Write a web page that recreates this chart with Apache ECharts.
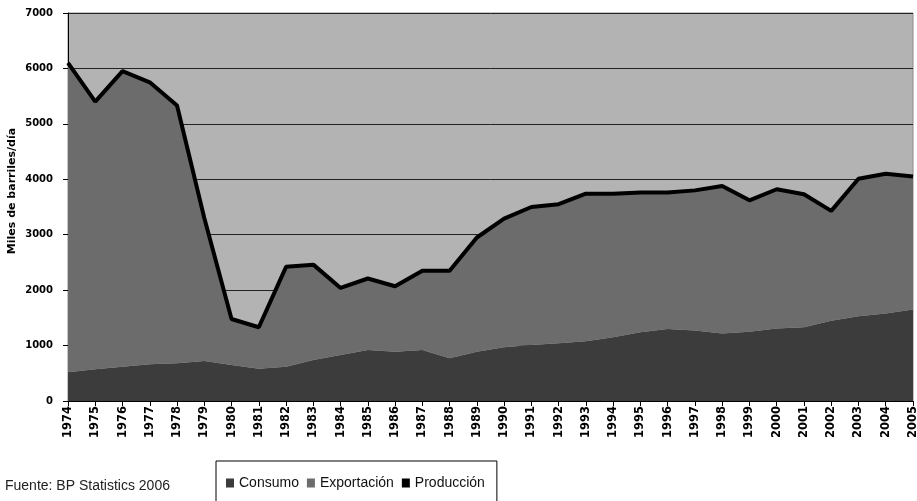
<!DOCTYPE html>
<html>
<head>
<meta charset="utf-8">
<script src="https://cdn.jsdelivr.net/npm/echarts@6/dist/echarts.min.js"></script>
<style>html,body{margin:0;padding:0;background:#fff}#c{width:917px;height:501px}</style>
</head>
<body>
<div id="c"></div>
<script>
const years = ['1974','1975','1976','1977','1978','1979','1980','1981','1982','1983','1984','1985','1986','1987','1988','1989','1990','1991','1992','1993','1994','1995','1996','1997','1998','1999','2000','2001','2002','2003','2004','2005'];
const consumo = [520, 575, 620, 665, 680, 720, 650, 580, 620, 740, 830, 920, 890, 920, 770, 890, 970, 1010, 1040, 1080, 1150, 1240, 1300, 1270, 1220, 1250, 1310, 1330, 1450, 1530, 1580, 1650];
const exportacion = [5580, 4825, 5330, 5085, 4650, 2580, 830, 750, 1800, 1720, 1210, 1290, 1180, 1430, 1580, 2060, 2320, 2490, 2510, 2660, 2590, 2520, 2460, 2530, 2660, 2370, 2510, 2400, 1980, 2480, 2520, 2400];
const produccion = [6100, 5400, 5950, 5750, 5330, 3300, 1480, 1330, 2420, 2460, 2040, 2210, 2070, 2350, 2350, 2950, 3290, 3500, 3550, 3740, 3740, 3760, 3760, 3800, 3880, 3620, 3820, 3730, 3430, 4010, 4100, 4050];
const yTicks = {min: 0, max: 7000, interval: 1000};

const chart = echarts.init(document.getElementById('c'), null, {renderer: 'canvas'});
chart.setOption({
  animation: false,
  backgroundColor: '#ffffff',
  grid: {left: 68, right: 4, top: 13, bottom: 100, containLabel: false, outerBoundsMode: 'none',
         show: true, backgroundColor: '#b3b3b3', borderColor: '#8a8a8a', borderWidth: 1},
  legend: {
    left: 216, top: 461,
    orient: 'horizontal',
    borderColor: '#000', borderWidth: 1,
    padding: [15, 12, 30, 10],
    itemWidth: 8, itemHeight: 9, itemGap: 8,
    icon: 'rect',
    textStyle: {fontFamily: 'Liberation Sans', fontSize: 14, color: '#111'},
    data: ['Consumo', 'Exportación', 'Producción']
  },
  xAxis: {
    type: 'category', data: years, boundaryGap: false,
    axisLine: {lineStyle: {color: '#000', width: 1}},
    axisTick: {show: true, interval: 0, length: 5, lineStyle: {color: '#000'}},
    axisLabel: {interval: 0, rotate: 90, margin: 5, fontFamily: 'DejaVu Sans', fontWeight: 'bold', fontSize: 11.5, color: '#000'},
    splitLine: {show: false}
  },
  yAxis: {
    type: 'value', min: yTicks.min, max: yTicks.max, interval: yTicks.interval,
    name: 'Miles de barriles/día', nameLocation: 'middle', nameGap: 50, nameRotate: 90, nameMoveOverlap: false,
    nameTextStyle: {fontFamily: 'DejaVu Sans', fontWeight: 'bold', fontSize: 11, color: '#000', padding: [0, 0, 0, 32]},
    axisLine: {show: true, lineStyle: {color: '#000', width: 1}},
    axisTick: {show: true, length: 5, lineStyle: {color: '#000'}},
    axisLabel: {margin: 15, fontFamily: 'DejaVu Sans', fontWeight: 'bold', fontSize: 10, color: '#000',
                formatter: function (v) { return String(v); }},
    splitLine: {show: true, lineStyle: {color: '#222', width: 1}}
  },
  series: [
    {name: 'Consumo', type: 'line', stack: 'total', data: consumo, symbol: 'none',
     lineStyle: {width: 0}, itemStyle: {color: '#3c3c3c'}, areaStyle: {color: '#3c3c3c', opacity: 1}, z: 2},
    {name: 'Exportación', type: 'line', stack: 'total', data: exportacion, symbol: 'none',
     lineStyle: {width: 0}, itemStyle: {color: '#6c6c6c'}, areaStyle: {color: '#6c6c6c', opacity: 1}, z: 2},
    {name: 'Producción', type: 'line', data: produccion, symbol: 'none',
     lineStyle: {width: 4, color: '#000'}, itemStyle: {color: '#000'}, z: 5}
  ],
  graphic: [
    {type: 'text', left: 5, top: 479, style: {text: 'Fuente: BP Statistics 2006', fontFamily: 'Liberation Sans', fontSize: 14, fill: '#222'}}
  ]
});
</script>
</body>
</html>
